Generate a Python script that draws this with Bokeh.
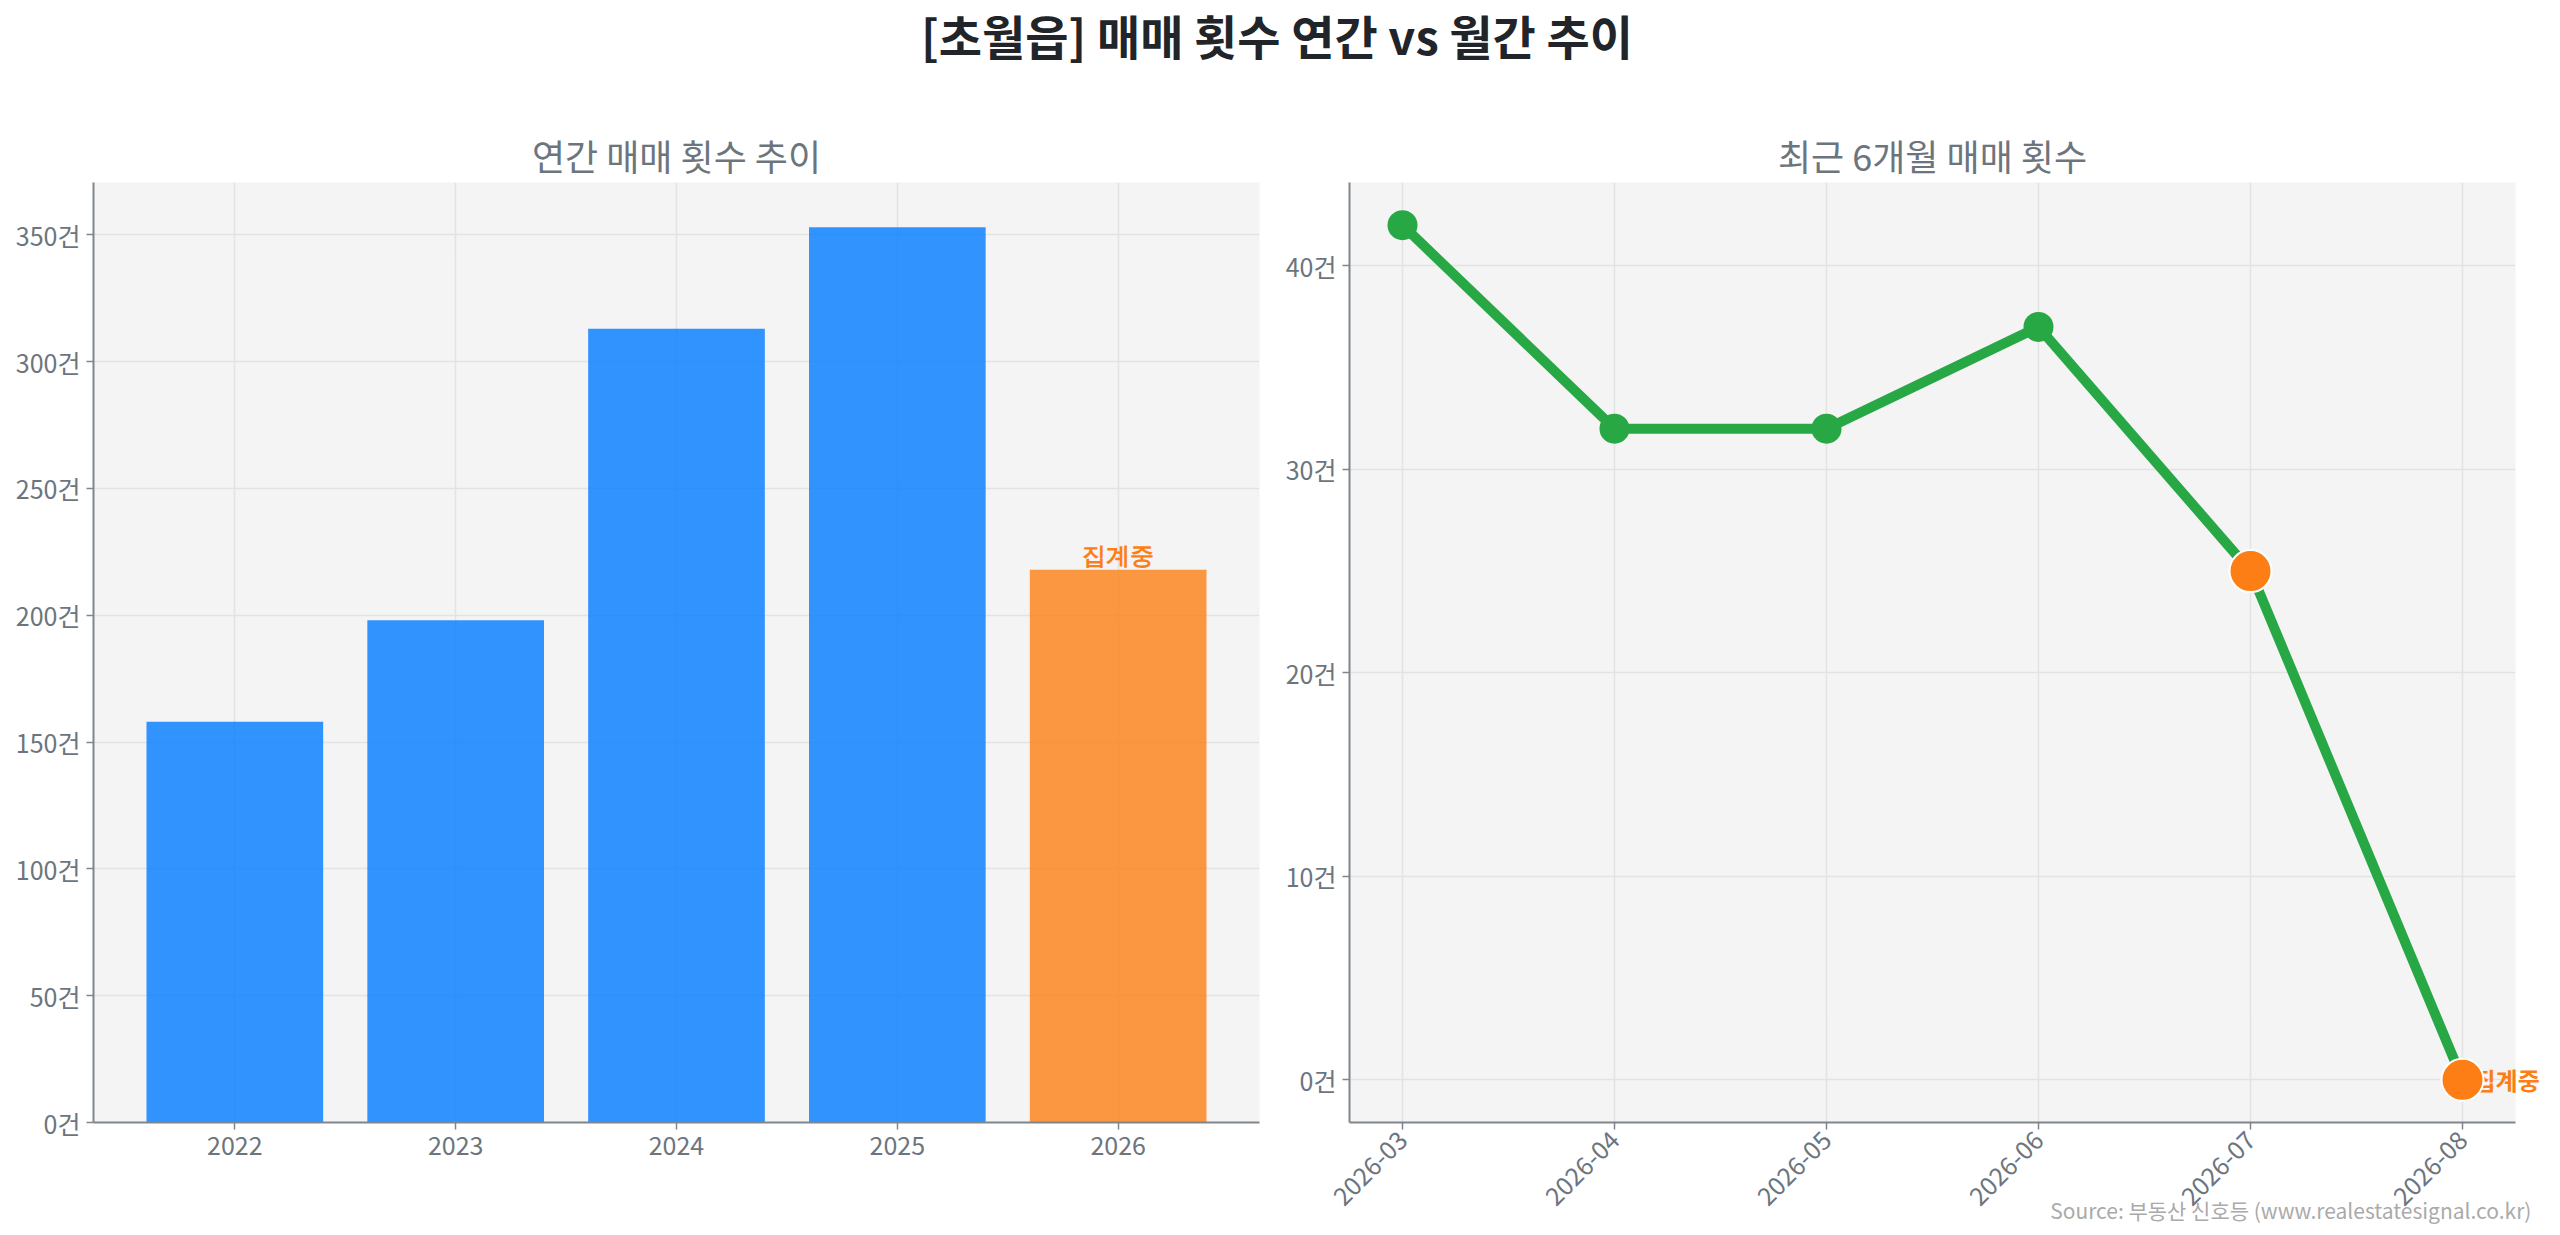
import math
from bokeh.plotting import figure
from bokeh.models import (Range1d, FixedTicker, Div, LabelSet, ColumnDataSource, LinearAxis)
from bokeh.layouts import column, row
from bokeh.embed import file_html
from bokeh.resources import INLINE

# ---------------- data ----------------
years = ["2022", "2023", "2024", "2025", "2026"]
annual_counts = [158, 198, 313, 353, 218]
annual_partial = [False, False, False, False, True]

months = ["2026-03", "2026-04", "2026-05", "2026-06", "2026-07", "2026-08"]
monthly_counts = [42, 32, 32, 37, 25, 0]
monthly_partial = [False, False, False, False, True, True]

annual_ticks = [0, 50, 100, 150, 200, 250, 300, 350]
monthly_ticks = [0, 10, 20, 30, 40]
unit = "건"
partial_text = "집계중"

main_title = "[초월읍] 매매 횟수 연간 vs 월간 추이"
left_title = "연간 매매 횟수 추이"
right_title = "최근 6개월 매매 횟수"
source_text = "Source: 부동산 신호등 (www.realestatesignal.co.kr)"

# ---------------- styles ----------------
FONT = "Noto Sans CJK KR"
BLUE = "#007bff"
ORANGE = "#fd7e14"
GREEN = "#28a745"
GRAY_TXT = "#6c757d"
AXIS_COL = "#7f868c"
PANEL_BG = "#f4f4f4"
GRID_COL = "#e3e3e3"


def style(p, ticks):
    p.background_fill_color = PANEL_BG
    p.border_fill_color = "white"
    p.outline_line_color = None
    p.title.text_font = FONT
    p.title.text_font_size = "36px"
    p.title.text_font_style = "normal"
    p.title.text_color = GRAY_TXT
    p.title.align = "center"
    p.title.standoff = 4
    for ax in (p.xaxis[0], p.yaxis[0]):
        ax.axis_line_color = AXIS_COL
        ax.axis_line_width = 2
        ax.major_tick_line_color = AXIS_COL
        ax.major_tick_line_width = 1.5
        ax.major_tick_out = 7
        ax.major_tick_in = 0
        ax.minor_tick_line_color = None
        ax.major_label_text_font = FONT
        ax.major_label_text_font_size = "25px"
        ax.major_label_text_color = GRAY_TXT
        ax.major_label_standoff = 6
    p.yaxis[0].ticker = FixedTicker(ticks=ticks)
    p.yaxis[0].major_label_overrides = {t: f"{t}{unit}" for t in ticks}
    for g in (p.xgrid[0], p.ygrid[0]):
        g.grid_line_color = GRID_COL
        g.grid_line_width = 1.5


def text_axis(tick, label, size, color, standoff, bold=False):
    """A line-less, tick-less axis that only shows one text (not clipped by the frame)."""
    return LinearAxis(ticker=FixedTicker(ticks=[tick]),
                      major_label_overrides={tick: label},
                      axis_line_color=None, major_tick_line_color=None,
                      minor_tick_line_color=None, major_tick_out=0, major_tick_in=0,
                      major_label_standoff=standoff, major_label_text_font=FONT,
                      major_label_text_font_size=size,
                      major_label_text_font_style="bold" if bold else "normal",
                      major_label_text_color=color)


# ---------------- left: annual bars ----------------
n_a = len(years)
xa = list(range(n_a))
a_max = max(annual_counts)
p1 = figure(width=1279, height=1115, output_backend="svg", toolbar_location=None,
            title=left_title,
            x_range=Range1d(-0.4 - 0.05 * (n_a - 1 + 0.8), n_a - 1 + 0.4 + 0.05 * (n_a - 1 + 0.8)),
            y_range=Range1d(0, a_max * 1.05),
            min_border_left=93, min_border_right=20, min_border_top=70, min_border_bottom=100)
style(p1, annual_ticks)
p1.xaxis[0].ticker = FixedTicker(ticks=xa)
p1.xaxis[0].major_label_overrides = {i: y for i, y in enumerate(years)}

bar_src = ColumnDataSource(dict(
    x=xa, top=annual_counts,
    color=[ORANGE if f else BLUE for f in annual_partial]))
p1.vbar(x="x", top="top", width=0.8, fill_color="color", line_color=None,
        fill_alpha=0.8, source=bar_src)

pa_src = ColumnDataSource(dict(
    x=[i for i, f in enumerate(annual_partial) if f],
    y=[annual_counts[i] for i, f in enumerate(annual_partial) if f],
    t=[partial_text for f in annual_partial if f]))
p1.add_layout(LabelSet(x="x", y="y", text="t", source=pa_src, text_align="center",
                       text_baseline="bottom", y_offset=1, text_font=FONT,
                       text_font_size="24px", text_font_style="bold", text_color=ORANGE))

# ---------------- right: monthly line ----------------
n_m = len(months)
xm = list(range(n_m))
m_max, m_min = max(monthly_counts), min(monthly_counts)
m_pad = 0.05 * (m_max - m_min)
p2 = figure(width=1273, height=1115, output_backend="svg", toolbar_location=None,
            title=right_title,
            x_range=Range1d(-0.05 * (n_m - 1), (n_m - 1) * 1.05),
            y_range=Range1d(m_min - m_pad, m_max + m_pad),
            min_border_left=70, min_border_right=37, min_border_top=70, min_border_bottom=100)
style(p2, monthly_ticks)
p2.xaxis[0].ticker = FixedTicker(ticks=xm)
p2.xaxis[0].major_label_overrides = {i: m for i, m in enumerate(months)}
p2.xaxis[0].major_label_orientation = math.pi / 4

p2.line(xm, monthly_counts, line_width=10, line_color=GREEN, line_join="round")
full_x = [i for i, f in enumerate(monthly_partial) if not f]
part_x = [i for i, f in enumerate(monthly_partial) if f]
p2.scatter([xm[i] for i in full_x], [monthly_counts[i] for i in full_x], size=30,
           fill_color=GREEN, line_color=None)

# "집계중" next to the last (partial) month
last = n_m - 1
p2.add_layout(text_axis(monthly_counts[last], partial_text, "24px", ORANGE, -42, bold=True),
              "right")

p2.scatter([xm[i] for i in part_x], [monthly_counts[i] for i in part_x], size=42,
           fill_color=ORANGE, line_color="white", line_width=2, level="overlay")

# source note, at the bottom right, overlapping the month labels
p2.add_layout(text_axis(4.19, source_text, "21px", "#aaaaaa", -22), "below")

# ---------------- title + layout ----------------
title_div = Div(text=f'<div style="width:2544px;text-align:center;font-family:\'{FONT}\';'
                     f'font-size:47px;font-weight:bold;color:#212529;line-height:60px;'
                     f'padding-top:0px;">{main_title}</div>',
                width=2544, height=102)

layout = column(title_div, row(p1, p2))
open("out.html", "w").write(file_html(layout, INLINE))
